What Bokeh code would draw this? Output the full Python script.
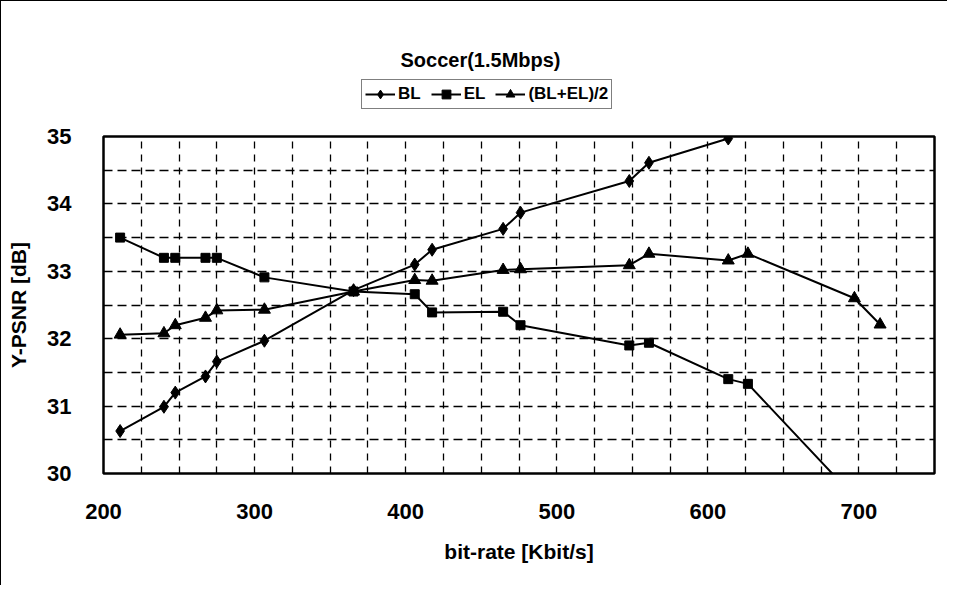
from bokeh.plotting import figure
from bokeh.layouts import column
from bokeh.models import (Range1d, SingleIntervalTicker, Legend, LegendItem, Label)
from bokeh.embed import file_html
from bokeh.resources import INLINE

# ---- data ----
bit_rate = [211, 240, 247.5, 267.5, 275, 306.5, 365.5, 406, 417.5, 464.5, 476,
            548, 561, 613.5, 626.5, 697, 714]
bl = [30.63, 30.99, 31.20, 31.44, 31.66, 31.97, 32.72, 33.10, 33.32, 33.63, 33.87,
      34.34, 34.61, 34.97, 35.19, 35.55, 35.17]
el = [33.50, 33.20, 33.20, 33.20, 33.20, 32.91, 32.70, 32.66, 32.39, 32.40, 32.20,
      31.90, 31.94, 31.40, 31.33, 29.65, 29.25]
avg = [32.06, 32.08, 32.20, 32.31, 32.42, 32.43, 32.70, 32.87, 32.86, 33.02, 33.03,
       33.09, 33.26, 33.16, 33.26, 32.60, 32.21]
series = [bl, el, avg]
series_names = ["BL", "EL", "(BL+EL)/2"]
markers = ["diamond", "square", "triangle"]
marker_sizes = [13, 9, 12]
title_text = "Soccer(1.5Mbps)"
x_label = "bit-rate [Kbit/s]"
y_label = "Y-PSNR [dB]"

FONT = "Liberation Sans"
W = 946
MAIN_H = 20 + 337 + 112
TOP_H = 584 - MAIN_H

# ---------------- header (title + legend) ----------------
# ranges chosen so the legend-only copies of the series stay out of view
top = figure(width=W, height=TOP_H, output_backend="svg", toolbar_location=None,
             x_range=Range1d(-3000, -2000), y_range=Range1d(-3000, -2000),
             x_axis_type=None, y_axis_type=None,
             min_border_left=0, min_border_right=0, min_border_top=0,
             min_border_bottom=0)
top.outline_line_color = None
top.grid.visible = False
top.background_fill_color = "white"
top.border_fill_color = "white"

top.add_layout(Label(x=377, y=57, x_units="screen", y_units="screen",
                     text=title_text, text_font=FONT, text_font_style="bold",
                     text_font_size="20px", text_align="center",
                     text_baseline="middle", text_color="black"))

items = []
for name, ys, marker in zip(series_names, series, markers):
    lr = top.line(bit_rate, ys, line_color="black", line_width=2)
    sr = top.scatter(bit_rate, ys, marker=marker, size=8,
                     fill_color="black", line_color="black")
    items.append(LegendItem(label=name, renderers=[lr, sr]))
legend = Legend(items=items, orientation="horizontal", location=(258, 7),
                label_text_font=FONT, label_text_font_style="bold",
                label_text_font_size="17px", label_text_color="black",
                border_line_color="black", border_line_width=1.2,
                background_fill_color="white", background_fill_alpha=1,
                padding=3, spacing=10, label_standoff=3,
                glyph_width=30, glyph_height=22, label_height=22, margin=0)
top.add_layout(legend, "center")

# ---------------- main chart ----------------
p = figure(width=W, height=MAIN_H, output_backend="svg", toolbar_location=None,
           x_range=Range1d(200, 750), y_range=Range1d(30, 35),
           min_border_left=102, min_border_right=13, min_border_top=20,
           min_border_bottom=112)
p.background_fill_color = "white"
p.border_fill_color = "white"
p.outline_line_color = "black"
p.outline_line_width = 2.5

p.xaxis.ticker = SingleIntervalTicker(interval=100, num_minor_ticks=0)
p.yaxis.ticker = SingleIntervalTicker(interval=1, num_minor_ticks=0)
for ax in (p.xaxis[0], p.yaxis[0]):
    ax.axis_line_color = None
    ax.major_tick_line_color = None
    ax.minor_tick_line_color = None
    ax.major_label_text_font = FONT
    ax.major_label_text_font_style = "bold"
    ax.major_label_text_font_size = "22px"
    ax.major_label_text_color = "black"
    ax.axis_label_text_font = FONT
    ax.axis_label_text_font_style = "bold"
    ax.axis_label_text_font_size = "21px"
    ax.axis_label_text_color = "black"
p.xaxis.axis_label = x_label
p.yaxis.axis_label = y_label
p.xaxis.major_label_standoff = 24
p.xaxis.axis_label_standoff = 18
p.yaxis.major_label_standoff = 26
p.yaxis.axis_label_standoff = 14

p.xgrid.ticker = SingleIntervalTicker(interval=25)
p.ygrid.ticker = SingleIntervalTicker(interval=0.5)
p.xgrid.grid_line_color = "black"
p.xgrid.grid_line_dash = "7 6"
p.xgrid.grid_line_width = 1.3
p.ygrid.grid_line_color = "black"
p.ygrid.grid_line_dash = "9 5"
p.ygrid.grid_line_width = 1.3

for ys, marker, size in zip(series, markers, marker_sizes):
    p.line(bit_rate, ys, line_color="black", line_width=2)
    p.scatter(bit_rate, ys, marker=marker, size=size,
              fill_color="black", line_color="black")

layout = column(top, p, spacing=0)
layout.styles = {"border-left": "1px solid black", "border-top": "1px solid black"}
open("out.html", "w").write(file_html(layout, INLINE))
